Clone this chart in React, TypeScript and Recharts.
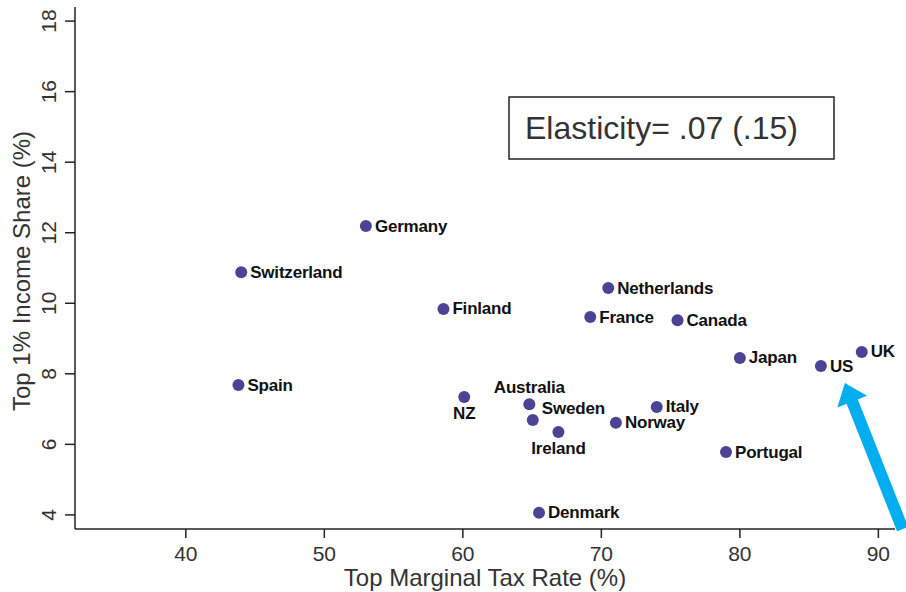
import React from "react";
import {
  ScatterChart,
  Scatter,
  XAxis,
  YAxis,
  ReferenceLine,
  Label,
} from "recharts";

const countries = [
  "Germany", "Switzerland", "Finland", "Spain", "NZ", "Australia", "Sweden",
  "Ireland", "Denmark", "Netherlands", "France", "Canada", "Japan", "US",
  "UK", "Italy", "Norway", "Portugal",
];
const taxRates = [
  53.0, 44.0, 58.6, 43.8, 60.1, 64.8, 65.05, 66.9, 65.5, 70.5, 69.2, 75.5,
  80.0, 85.85, 88.8, 74.0, 71.05, 79.0,
];
const incomeShares = [
  12.19, 10.88, 9.84, 7.68, 7.34, 7.14, 6.69, 6.35, 4.06, 10.43, 9.61, 9.52,
  8.45, 8.22, 8.62, 7.06, 6.61, 5.78,
];
// label clock positions (style)
const labelClock = [3, 3, 3, 3, 6, 12, 2, 6, 3, 3, 3, 3, 3, 3, 3, 3, 3, 3];

const xTicks = [40, 50, 60, 70, 80, 90];
const yTicks = [4, 6, 8, 10, 12, 14, 16, 18];
const annotation = "Elasticity= .07 (.15)";
const arrowTail = { x: 91.75, y: 3.6 };
const arrowTip = { x: 87.58, y: 7.74 };

const data = countries.map((c, i) => ({
  country: c,
  rate: taxRates[i],
  share: incomeShares[i],
  clock: labelClock[i],
}));

const FONT = "'Liberation Sans', Arial, sans-serif";

const PointShape = (props: any) => {
  const { cx, cy, payload } = props;
  const clock = payload.clock;
  let tx = cx + 9;
  let ty = cy;
  let anchor: any = "start";
  if (clock === 12) {
    tx = cx;
    ty = cy - 17;
    anchor = "middle";
  } else if (clock === 6) {
    tx = cx;
    ty = cy + 16;
    anchor = "middle";
  } else if (clock === 2) {
    tx = cx + 9;
    ty = cy - 12;
  }
  return (
    <g>
      <circle cx={cx} cy={cy} r={6} fill="#4b4494" />
      <text
        x={tx}
        y={ty}
        textAnchor={anchor}
        dominantBaseline="central"
        fontFamily={FONT}
        fontWeight="bold"
        fontSize={17}
        letterSpacing={-0.2}
        fill="#111"
      >
        {payload.country}
      </text>
    </g>
  );
};

const YTick = (props: any) => {
  const { x, y, payload } = props;
  const cx = x - 14;
  return (
    <text
      x={cx}
      y={y}
      transform={`rotate(-90, ${cx}, ${y})`}
      textAnchor="middle"
      dominantBaseline="central"
      fontFamily={FONT}
      fontSize={21}
      fill="#333"
    >
      {payload.value}
    </text>
  );
};

const ArrowShape = (props: any) => {
  const { x1, y1, x2, y2 } = props;
  if ([x1, y1, x2, y2].some((v) => v === undefined || isNaN(v))) return null;
  const dx = x2 - x1;
  const dy = y2 - y1;
  const len = Math.sqrt(dx * dx + dy * dy);
  const ux = dx / len;
  const uy = dy / len;
  const headLen = 20;
  const headHalf = 16;
  const bx = x2 - ux * headLen;
  const by = y2 - uy * headLen;
  const px = -uy;
  const py = ux;
  return (
    <g>
      <line x1={x1} y1={y1} x2={bx + ux * 2} y2={by + uy * 2} stroke="#00aeef" strokeWidth={12} />
      <polygon
        points={`${x2},${y2} ${bx + px * headHalf},${by + py * headHalf} ${bx - px * headHalf},${by - py * headHalf}`}
        fill="#00aeef"
      />
    </g>
  );
};

const ElasticityBox = (props: any) => {
  const { viewBox } = props;
  const x0 = viewBox.x + 434;
  const y0 = viewBox.y + 90;
  return (
    <g>
      <rect x={x0} y={y0} width={325} height={62} fill="#fff" stroke="#222" strokeWidth={1.5} />
      <text
        x={x0 + 16}
        y={y0 + 31}
        dominantBaseline="central"
        fontFamily={FONT}
        fontSize={32}
        fill="#333"
      >
        {annotation}
      </text>
    </g>
  );
};

export default function App() {
  return (
    <div style={{ position: "absolute", left: 0, top: 0, background: "#fff" }}>
      <ScatterChart
        width={906}
        height={592}
        margin={{ top: 7, right: 11, left: 0, bottom: 0 }}
      >
        <XAxis
          type="number"
          dataKey="rate"
          domain={[32, 91.2]}
          ticks={xTicks}
          height={63}
          tickSize={9}
          tickMargin={8}
          allowDataOverflow
          axisLine={{ stroke: "#222", strokeWidth: 1.5 }}
          tickLine={{ stroke: "#222", strokeWidth: 1.5 }}
          tick={{ fontFamily: FONT, fontSize: 21, fill: "#333" }}
        >
          <Label
            value="Top Marginal Tax Rate (%)"
            position="insideBottom"
            offset={6}
            style={{ fontFamily: FONT, fontSize: 24, fill: "#333" }}
          />
        </XAxis>
        <YAxis
          type="number"
          dataKey="share"
          domain={[3.6, 18.4]}
          ticks={yTicks}
          width={75}
          tickSize={10}
          tickMargin={2}
          allowDataOverflow
          axisLine={{ stroke: "#222", strokeWidth: 1.5 }}
          tickLine={{ stroke: "#222", strokeWidth: 1.5 }}
          tick={<YTick />}
        >
          <Label
            content={(p: any) => {
              const vb = p.viewBox;
              const cx = vb.x + 21;
              const cy = vb.y + vb.height / 2 + 3;
              return (
                <text
                  x={cx}
                  y={cy}
                  transform={`rotate(-90, ${cx}, ${cy})`}
                  textAnchor="middle"
                  dominantBaseline="central"
                  fontFamily={FONT}
                  fontSize={24}
                  fill="#333"
                >
                  Top 1% Income Share (%)
                </text>
              );
            }}
          />
        </YAxis>
        <Scatter data={data} shape={<PointShape />} isAnimationActive={false} />
        <ReferenceLine
          segment={[arrowTail, arrowTip]}
          ifOverflow="visible"
          shape={<ArrowShape />}
        />
        <ReferenceLine
          y={18.4}
          stroke="none"
          ifOverflow="visible"
          label={<ElasticityBox />}
        />
      </ScatterChart>
    </div>
  );
}
